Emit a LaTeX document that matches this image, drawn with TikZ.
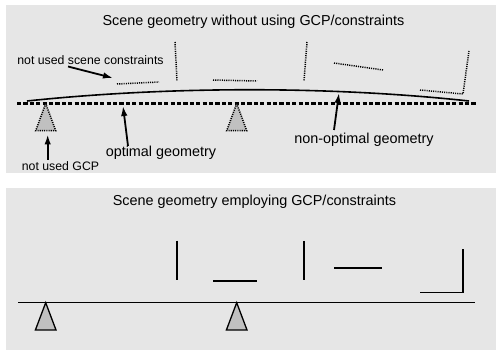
\documentclass[tikz,border=0pt]{standalone}
\usepackage{fontspec}
\setmainfont{Liberation Sans}
\usetikzlibrary{arrows.meta}
\definecolor{panelgray}{HTML}{E6E6E6}
\definecolor{gcpgray}{HTML}{C0C0C0}

\begin{document}
\begin{tikzpicture}[x=1pt,y=-1pt,
  every node/.style={font=\fontsize{12.3}{14}\selectfont, inner sep=0pt},
  title/.style={font=\fontsize{14.4}{17}\selectfont, anchor=base},
  biglbl/.style={font=\fontsize{14.4}{17}\selectfont, anchor=base},
  smalllbl/.style={anchor=base},
  panel/.style={fill=panelgray, draw=none},
  dotseg/.style={line width=1.5pt, dash pattern=on 1.1pt off 1.1pt},
  solidseg/.style={line width=1.3pt},
  gcp/.style={fill=gcpgray, line width=1.3pt, line join=miter},
  ptr/.style={line width=1.8pt, -{Latex[length=10pt,width=6.5pt]}},
  >=Latex
]
  \useasboundingbox (0,0) rectangle (496,350);
  \fill[panel] (6,5) rectangle (496,172.7);
  \fill[panel] (6,187.7) rectangle (496,350);

  % ---- top panel: without GCP/constraints
  \node[title] (top) at (253.5,25.4) {Scene geometry without using GCP/constraints};

  \draw[line width=2.1pt, dash pattern=on 4.2pt off 2.2pt] (17,103.5) -- (476,103.5);
  \draw[line width=1.6pt] (27,101) .. controls (170,86) and (330,86) .. (469,101);

  \foreach \x in {45.7,236.7}
    \draw[gcp, dotseg] (\x,103.5) -- (\x-10,130.7) -- (\x+10,130.7) -- cycle;

  \draw[dotseg] (117,84) -- (159,82);
  \draw[dotseg] (175,42) -- (177,81);
  \draw[dotseg] (213,80) -- (257,81);
  \draw[dotseg] (307,42) -- (304,81);
  \draw[dotseg] (334,63) -- (383,70);
  \draw[dotseg] (420,90) -- (463,94) -- (469,51);

  \node[smalllbl] (scn) at (90.5,65) {not used scene constraints};
  \node[smalllbl] (ngcp) at (60.5,170.3) {not used GCP};
  \node[biglbl] (opt) at (161,157) {optimal geometry};
  \node[biglbl] (nopt) at (364,144) {non-optimal geometry};

  \coordinate (scntip) at (113,78);
  \coordinate (gcptip) at (47.7,134.5);
  \coordinate (opttip) at (123,106);
  \coordinate (nopttip) at (339,93);

  \draw[ptr] ([xshift=-22.5pt,yshift=-1.5pt]scn.base) -- (scntip);
  \draw[ptr] ([xshift=-12.8pt,yshift=10.5pt]ngcp.base) -- (gcptip);
  \draw[ptr] ([xshift=-33pt,yshift=11pt]opt.base) -- (opttip);
  \draw[ptr] ([xshift=-30pt,yshift=14pt]nopt.base) -- (nopttip);

  % ---- bottom panel: employing GCP/constraints
  \node[title] (bot) at (254.5,206) {Scene geometry employing GCP/constraints};

  \draw[solidseg] (18,302.7) -- (475,302.7);
  \foreach \x in {45.7,236.7}
    \draw[gcp] (\x,302.7) -- (\x-10.3,330) -- (\x+10.3,330) -- cycle;

  \draw[solidseg] (177,240.7) -- (177,280);
  \draw[solidseg] (213,281) -- (257,281);
  \draw[solidseg] (304,241) -- (304,280);
  \draw[solidseg] (334,268) -- (382,268);
  \draw[solidseg] (420,292.7) -- (463,292.7) -- (463,249);
\end{tikzpicture}
\end{document}
